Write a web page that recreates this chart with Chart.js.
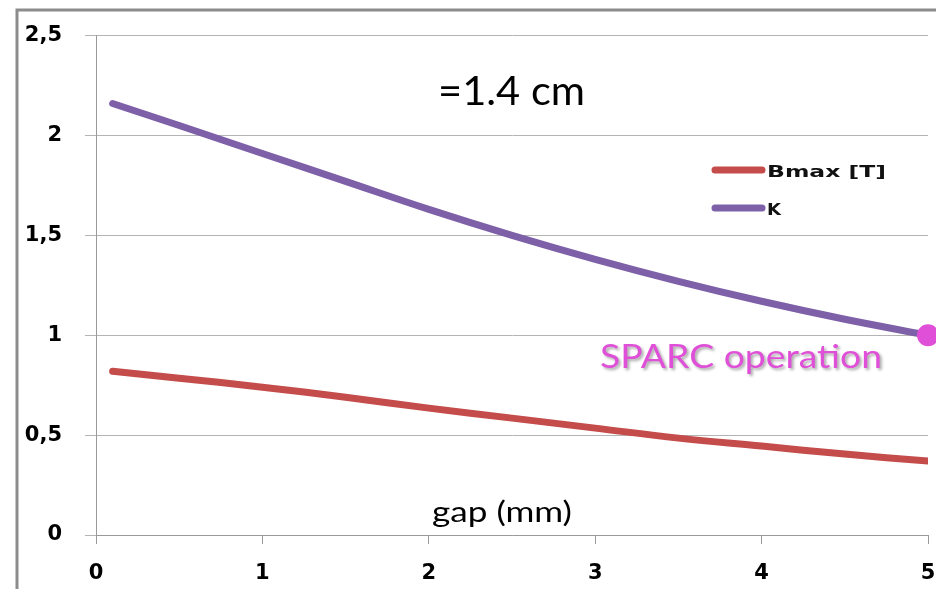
<!DOCTYPE html>
<html>
<head>
<meta charset="utf-8">
<script src="https://cdn.jsdelivr.net/npm/chart.js@4.4.1/dist/chart.umd.min.js"></script>
<style>
  html, body { margin: 0; padding: 0; background: #fff; }
  canvas { display: block; }
</style>
</head>
<body>
<canvas id="gapChart" width="936" height="589"></canvas>
<script>
// gap in mm and the two curves
const gapMm      = [0.1, 0.5, 1, 1.5, 2, 2.5, 3, 3.5, 4, 4.5, 5];
const kValues    = [2.16, 2.05, 1.91, 1.77, 1.63, 1.50, 1.38, 1.27, 1.17, 1.08, 1.00];
const bmaxValues = [0.82, 0.785, 0.74, 0.69, 0.635, 0.585, 0.535, 0.485, 0.445, 0.405, 0.37];
const yTicks     = [0, 0.5, 1, 1.5, 2, 2.5];

// operating point
const sparcGap = [5];
const sparcK   = [1];

const seriesColors = { bmax: '#c44c4a', k: '#7e60a9', sparc: '#df4fd8' };

const toPoints = (xs, ys) => xs.map((x, i) => ({ x: x, y: ys[i] }));

// text squeezed / stretched to a given width
function drawText(ctx, text, x, y, font, color, width, shadow) {
    ctx.save();
    ctx.font = font;
    ctx.fillStyle = color;
    ctx.textBaseline = 'alphabetic';
    ctx.textAlign = 'left';
    const w = ctx.measureText(text).width;
    ctx.translate(x, y);
    ctx.scale(width / w, 1);
    if (shadow) {
        ctx.shadowColor = 'rgba(0,0,0,0.35)';
        ctx.shadowOffsetX = 2;
        ctx.shadowOffsetY = 2;
        ctx.shadowBlur = 3;
    }
    ctx.fillText(text, 0, 0);
    ctx.restore();
}

const notesPlugin = {
    id: 'notes',
    afterDraw(chart) {
        const ctx = chart.ctx;

        // outer frame
        ctx.save();
        ctx.strokeStyle = '#8c8c8c';
        ctx.lineWidth = 3;
        ctx.beginPath();
        ctx.moveTo(17, 589);
        ctx.lineTo(17, 10);
        ctx.lineTo(936, 10);
        ctx.stroke();
        ctx.restore();

        drawText(ctx, '=1.4 cm', 438, 105, '40px Lato', '#000', 147);
        drawText(ctx, 'SPARC operation', 600, 368, '32px Lato', seriesColors.sparc, 282, true);
        drawText(ctx, 'gap (mm)', 432, 522, '28px Lato', '#000', 140);

        // legend
        const items = chart.data.datasets.filter(d => d.label);
        items.forEach((d, i) => {
            const y = 170 + i * 38;
            ctx.save();
            ctx.strokeStyle = d.borderColor;
            ctx.lineWidth = 7;
            ctx.lineCap = 'round';
            ctx.beginPath();
            ctx.moveTo(715, y);
            ctx.lineTo(762, y);
            ctx.stroke();
            ctx.restore();
            const w = d.label === 'K' ? 14 : 119;
            drawText(ctx, d.label, 767, y + 7, 'bold 16px "DejaVu Sans"', '#111', w);
        });
    }
};

const tickFont = { family: '"DejaVu Sans", Verdana, sans-serif', size: 21, weight: 'bold' };

new Chart(document.getElementById('gapChart'), {
    type: 'line',
    data: {
        datasets: [
            {
                label: '',
                data: toPoints(sparcGap, sparcK),
                showLine: false,
                pointRadius: 11,
                pointBackgroundColor: seriesColors.sparc,
                pointBorderWidth: 0,
                clip: false,
                order: 0
            },
            {
                label: 'Bmax [T]',
                data: toPoints(gapMm, bmaxValues),
                borderColor: seriesColors.bmax,
                borderWidth: 7,
                pointRadius: 0,
                tension: 0.4,
                borderCapStyle: 'round',
                order: 1
            },
            {
                label: 'K',
                data: toPoints(gapMm, kValues),
                borderColor: seriesColors.k,
                borderWidth: 7,
                pointRadius: 0,
                tension: 0.4,
                borderCapStyle: 'round',
                order: 2
            }
        ]
    },
    options: {
        responsive: false,
        animation: false,
        devicePixelRatio: 1,
        layout: { autoPadding: false, padding: { top: 35, right: 8, left: 0, bottom: 0 } },
        plugins: {
            legend: { display: false },
            tooltip: { enabled: false }
        },
        scales: {
            x: {
                type: 'linear',
                min: 0,
                max: 5,
                ticks: { stepSize: 1, color: '#000', font: tickFont, padding: 17 },
                grid: { drawOnChartArea: false, tickLength: 9, color: '#9a9a9a' },
                border: { color: '#9a9a9a' },
                afterFit(scale) {
                    scale.height = 54;
                    scale.paddingLeft = 0;
                    scale.paddingRight = 0;
                }
            },
            y: {
                min: 0,
                max: 2.5,
                afterBuildTicks(scale) { scale.ticks = yTicks.map(v => ({ value: v })); },
                ticks: {
                    color: '#000',
                    font: tickFont,
                    padding: 23,
                    callback: v => String(v).replace('.', ',')
                },
                grid: { color: '#b4b4b4', tickLength: 11 },
                border: { color: '#9a9a9a' },
                afterFit(scale) { scale.width = 96; }
            }
        }
    },
    plugins: [notesPlugin]
});
</script>
</body>
</html>
